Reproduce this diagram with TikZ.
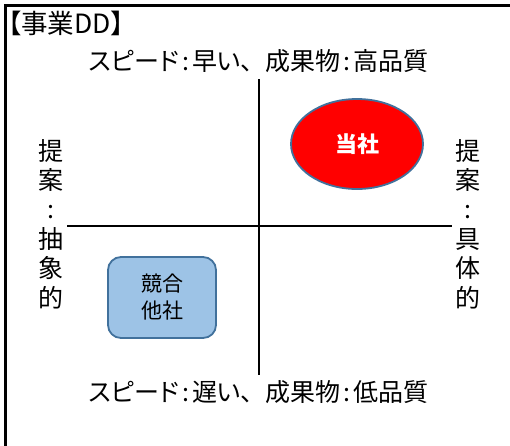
\documentclass[tikz,border=0pt]{standalone}
\usepackage{fontspec}
\usetikzlibrary{shapes.geometric}
\newfontfamily\jp[RawFeature=+palt]{Noto Sans CJK JP}
\newfontfamily\jpw{Noto Sans CJK JP}
\newcommand{\tc}{\kern3pt:\kern3pt}
\newcommand{\tm}{{\jpw 、}}
\definecolor{edgeblue}{HTML}{41719C}
\definecolor{boxfill}{HTML}{9DC3E6}
\begin{document}
\begin{tikzpicture}[x=1pt,y=-1pt,
  axis/.style={line width=2.8pt},
  lbl/.style={font=\jp\fontsize{25}{29.4}\selectfont, inner sep=0pt},
  vlbl/.style={lbl, align=center},
  us/.style={ellipse, draw=edgeblue, line width=1.8pt, fill=red, minimum width=132, minimum height=90, inner sep=0pt, text=white, font=\jp\fontsize{22}{26}\selectfont\bfseries},
  rival/.style={draw=edgeblue, line width=1.8pt, fill=boxfill, rounded corners=13pt, minimum width=108, minimum height=81, inner sep=0pt, align=center, font=\jp\fontsize{21}{27}\selectfont}
]
\useasboundingbox (0,0) rectangle (510,445);
\clip (0,0) rectangle (510,445);
\fill[white] (0,0) rectangle (510,445);
\draw[line width=3pt] (5,5.5) rectangle (530,470);
\node[lbl, anchor=base west, text height=18pt, text depth=3pt, font=\jp\fontsize{26.5}{30}\selectfont] (title) at (8,33.5) {【事業DD】};
\node[lbl] (top) at (259,61) {スピード\tc 早い\tm 成果物\tc 高品質};
\node[lbl] (bottom) at (259,392) {スピード\tc 遅い\tm 成果物\tc 低品質};
\coordinate (vt) at (259,79);
\coordinate (vb) at (259,375);
\coordinate (hl) at (67,226);
\coordinate (hr) at (452,226);
\draw[axis] (vt) -- (vb);
\draw[axis] (hl) -- (hr);
\node[vlbl] (left) at (51,224) {提\\案\\:\\抽\\象\\的};
\node[vlbl] (right) at (468,224) {提\\案\\:\\具\\体\\的};
\node[us] (ours) at (357,144) {当社};
\node[rival] (comp) at (162,297.5) {競合\\他社};
\end{tikzpicture}
\end{document}
